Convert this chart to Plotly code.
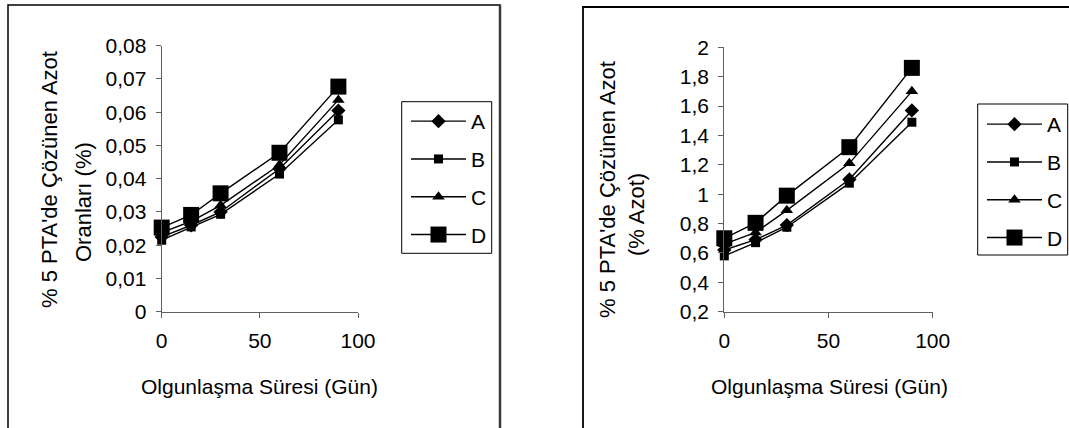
import plotly.graph_objects as go

W, H = 1069, 428

days = [0, 15, 30, 60, 90]
series_names = ["A", "B", "C", "D"]

# Left chart: % 5 PTA'de Çözünen Azot Oranları (%)
left_A = [0.0225, 0.0260, 0.0300, 0.0430, 0.0605]
left_B = [0.0215, 0.0255, 0.0293, 0.0414, 0.0577]
left_C = [0.0238, 0.0272, 0.0320, 0.0442, 0.0637]
left_D = [0.0253, 0.0291, 0.0356, 0.0478, 0.0677]

# Right chart: % 5 PTA'de Çözünen Azot (% Azot)
right_A = [0.62, 0.69, 0.79, 1.10, 1.57]
right_B = [0.58, 0.67, 0.775, 1.075, 1.49]
right_C = [0.66, 0.74, 0.89, 1.21, 1.70]
right_D = [0.70, 0.805, 0.99, 1.32, 1.86]

left_ytitle = ["% 5 PTA'de Çözünen Azot", "Oranları (%)"]
right_ytitle = ["% 5 PTA'de Çözünen Azot", "(% Azot)"]
xtitle = "Olgunlaşma Süresi (Gün)"

FONT = "Liberation Sans, Arial, sans-serif"
symbols = {"A": "diamond", "B": "square", "C": "triangle-up", "D": "square"}
sizes = {"A": 11, "B": 9, "C": 11, "D": 16}


def px(x):
    return x / W


def py(y):
    return 1 - y / H


fig = go.Figure()
left_vals = {"A": left_A, "B": left_B, "C": left_C, "D": left_D}
right_vals = {"A": right_A, "B": right_B, "C": right_C, "D": right_D}

for n in series_names:
    fig.add_trace(go.Scatter(
        x=days, y=left_vals[n], name=n, mode="lines+markers",
        xaxis="x", yaxis="y", legend="legend", legendgroup="L" + n,
        line=dict(color="black", width=1.4),
        marker=dict(symbol=symbols[n], size=sizes[n], color="black"),
        cliponaxis=False,
    ))
for n in series_names:
    fig.add_trace(go.Scatter(
        x=days, y=right_vals[n], name=n, mode="lines+markers",
        xaxis="x2", yaxis="y2", legend="legend2", legendgroup="R" + n,
        line=dict(color="black", width=1.4),
        marker=dict(symbol=symbols[n], size=sizes[n], color="black"),
        cliponaxis=False,
    ))

axis_common = dict(
    showline=True, linecolor="#606060", linewidth=1.3,
    ticks="outside", ticklen=5, tickcolor="#606060", tickwidth=1.3,
    showgrid=False, zeroline=False,
    tickfont=dict(family=FONT, size=21, color="black"),
)
xaxis_common = dict(range=[0, 100], dtick=50, ticklabelstandoff=5, **axis_common)
yaxis_common = dict(ticklabelstandoff=5, **axis_common)

legend_common = dict(
    bgcolor="rgba(0,0,0,0)", borderwidth=0,
    font=dict(family=FONT, size=21, color="black"),
    traceorder="grouped", tracegroupgap=7.5, itemwidth=55,
    xanchor="left", yanchor="top",
)

fig.update_layout(
    width=W, height=H,
    margin=dict(l=0, r=0, t=0, b=0, autoexpand=False),
    paper_bgcolor="white", plot_bgcolor="white",
    separators=",.",
    font=dict(family=FONT, size=21, color="black"),
    xaxis=dict(domain=[px(161.7), px(358)], anchor="y", **xaxis_common),
    yaxis=dict(domain=[py(311.7), py(45.7)], range=[0, 0.08], dtick=0.01,
               anchor="x", **yaxis_common),
    xaxis2=dict(domain=[px(724.3), px(932.7)], anchor="y2", **xaxis_common),
    yaxis2=dict(domain=[py(311.7), py(47.3)], range=[0.2, 2], dtick=0.2,
                anchor="x2", **yaxis_common),
    legend=dict(x=px(406), y=py(101), **legend_common),
    legend2=dict(x=px(982), y=py(104), **legend_common),
    showlegend=True,
)

# frames
fig.add_shape(type="rect", xref="paper", yref="paper",
              x0=px(8), x1=px(500), y0=py(440), y1=py(5),
              line=dict(color="black", width=1.5), layer="below")
fig.add_shape(type="line", xref="paper", yref="paper",
              x0=px(500), x1=px(500), y0=py(440), y1=py(5),
              line=dict(color="#3a3a3a", width=2.5), layer="below")
fig.add_shape(type="rect", xref="paper", yref="paper",
              x0=px(583), x1=px(1085), y0=py(440), y1=py(7),
              line=dict(color="black", width=1.8), layer="below")
# legend boxes
fig.add_shape(type="rect", xref="paper", yref="paper",
              x0=px(401.7), x1=px(491.7), y0=py(253.3), y1=py(101.7),
              line=dict(color="black", width=1))
fig.add_shape(type="rect", xref="paper", yref="paper",
              x0=px(977.7), x1=px(1067.7), y0=py(255), y1=py(104),
              line=dict(color="black", width=1))


# axis titles
def ann(text, x, y, angle=0, size=21):
    fig.add_annotation(text=text, x=px(x), y=py(y), xref="paper", yref="paper",
                       showarrow=False, textangle=angle, xanchor="center",
                       yanchor="middle", font=dict(family=FONT, size=size, color="black"))


ann(left_ytitle[0], 50, 180, -90, 22)
ann(left_ytitle[1], 83, 202, -90, 22)
ann(right_ytitle[0], 607, 190, -90, 22)
ann(right_ytitle[1], 636, 215, -90, 22)
ann(xtitle, 259, 386)
ann(xtitle, 829, 386)

fig.write_html("out.html")
